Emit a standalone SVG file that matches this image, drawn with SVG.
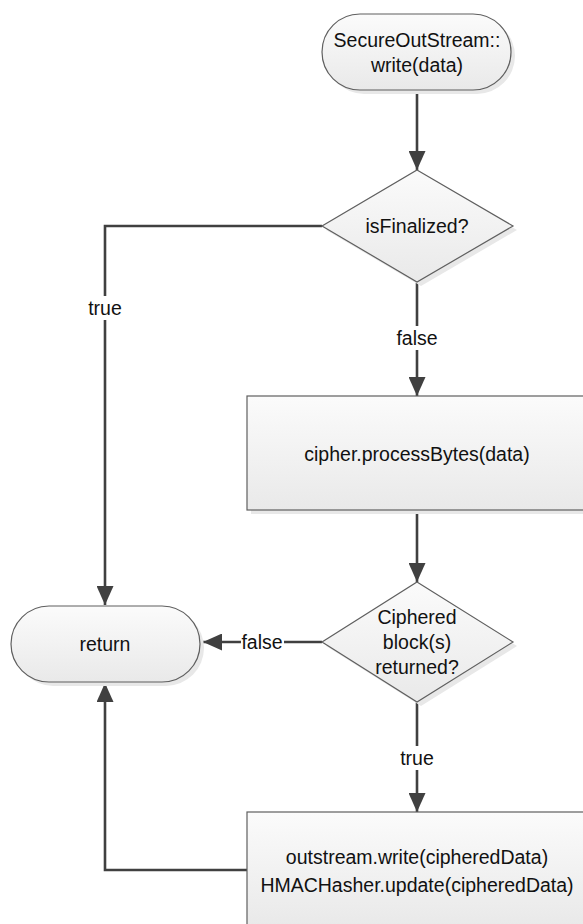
<svg xmlns="http://www.w3.org/2000/svg" width="583" height="924" viewBox="0 0 583 924">
  <defs>
    <linearGradient id="nodeFill" x1="0" y1="0" x2="0" y2="1">
      <stop offset="0" stop-color="#fbfbfb"/>
      <stop offset="1" stop-color="#e9e9e9"/>
    </linearGradient>
    <marker id="arrow" markerUnits="userSpaceOnUse" viewBox="0 0 19 17" refX="19" refY="8.5" markerWidth="19" markerHeight="17" orient="auto">
      <path d="M0,0 L19,8.5 L0,17 Z" fill="#404040"/>
    </marker>
    <style>
      .shape { fill: url(#nodeFill); stroke: #5f5f5f; stroke-width: 1.2; }
      .shadow { fill: #e8e8e8; stroke: none; }
      .label { font-family: "Liberation Sans", Arial, sans-serif; font-size: 19.5px; fill: #111; text-anchor: middle; dominant-baseline: central; }
      .edge { fill: none; stroke: #404040; stroke-width: 2.6; }
      .edge-bg { fill: #ffffff; }
    </style>
  </defs>
  <rect width="583" height="924" fill="#ffffff"/>

  <!-- connectors -->
  <g id="connectors">
    <path class="edge" d="M417,90 V170" marker-end="url(#arrow)"/>
    <path class="edge" d="M417,282 V396" marker-end="url(#arrow)"/>
    <path class="edge" d="M417,510 V582" marker-end="url(#arrow)"/>
    <path class="edge" d="M417,702 V812" marker-end="url(#arrow)"/>
    <path class="edge" d="M322,226 H105 V605" marker-end="url(#arrow)"/>
    <path class="edge" d="M322,642 H203" marker-end="url(#arrow)"/>
    <path class="edge" d="M247,870 H105 V683" marker-end="url(#arrow)"/>

    <rect class="edge-bg" x="84" y="296" width="42" height="24"/>
    <text class="label" x="105" y="308">true</text>
    <rect class="edge-bg" x="395" y="326" width="44" height="24"/>
    <text class="label" x="417" y="338">false</text>
    <rect class="edge-bg" x="241" y="630" width="43" height="24"/>
    <text class="label" x="262" y="642">false</text>
    <rect class="edge-bg" x="396" y="746" width="42" height="24"/>
    <text class="label" x="417" y="758">true</text>
  </g>

  <!-- start: SecureOutStream::write(data) -->
  <g id="start">
    <rect class="shadow" x="326" y="18" width="189" height="76" rx="38"/>
    <rect class="shape" x="322" y="14" width="189" height="76" rx="38"/>
    <text class="label" x="417" y="40">SecureOutStream::</text>
    <text class="label" x="417" y="65">write(data)</text>
  </g>

  <!-- decision: isFinalized? -->
  <g id="isFinalized">
    <polygon class="shadow" points="421,174 517,230 421,286 326,230"/>
    <polygon class="shape" points="417,170 513,226 417,282 322,226"/>
    <text class="label" x="417" y="226">isFinalized?</text>
  </g>

  <!-- process: cipher.processBytes(data) -->
  <g id="processBytes">
    <rect class="shadow" x="251" y="400" width="340" height="114"/>
    <rect class="shape" x="247" y="396" width="340" height="114"/>
    <text class="label" x="417" y="454">cipher.processBytes(data)</text>
  </g>

  <!-- decision: Ciphered block(s) returned? -->
  <g id="cipheredReturned">
    <polygon class="shadow" points="421,586 517,646 421,706 326,646"/>
    <polygon class="shape" points="417,582 513,642 417,702 322,642"/>
    <text class="label" x="417" y="617">Ciphered</text>
    <text class="label" x="417" y="642">block(s)</text>
    <text class="label" x="417" y="667">returned?</text>
  </g>

  <!-- end: return -->
  <g id="return">
    <rect class="shadow" x="15" y="610" width="189" height="76" rx="38"/>
    <rect class="shape" x="11" y="606" width="189" height="76" rx="38"/>
    <text class="label" x="105" y="644">return</text>
  </g>

  <!-- process: write and hash ciphered data -->
  <g id="writeAndHash">
    <rect class="shadow" x="251" y="816" width="340" height="114"/>
    <rect class="shape" x="247" y="812" width="340" height="114"/>
    <text class="label" x="417" y="857">outstream.write(cipheredData)</text>
    <text class="label" x="417" y="885">HMACHasher.update(cipheredData)</text>
  </g>
</svg>
